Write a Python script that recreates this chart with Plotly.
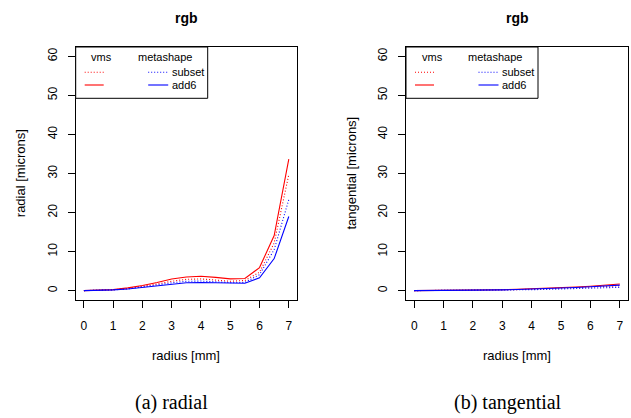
import plotly.graph_objects as go

W, H = 631, 418

# radius sample positions [mm]
radius = [0, 0.5, 1, 1.5, 2, 2.5, 3, 3.5, 4, 4.5, 5, 5.5, 6, 6.5, 7]

# radial distortion [microns]
radial_vms_subset = [0, 0.08, 0.22, 0.55, 1.05, 1.7, 2.4, 2.9, 3.0, 2.7, 2.4, 2.6, 4.7, 12.2, 29.7]
radial_vms_add6 = [0, 0.1, 0.25, 0.7, 1.3, 2.1, 3.0, 3.5, 3.7, 3.4, 3.0, 3.1, 5.9, 14.1, 33.7]
radial_ms_subset = [0, 0.06, 0.2, 0.45, 0.9, 1.45, 2.0, 2.4, 2.45, 2.3, 2.05, 2.1, 4.1, 10.5, 23.3]
radial_ms_add6 = [0, 0.05, 0.2, 0.4, 0.8, 1.3, 1.7, 2.0, 2.1, 2.0, 1.9, 1.9, 3.3, 8.2, 19.0]

# tangential distortion [microns]
tang_vms_subset = [0, 0.01, 0.02, 0.05, 0.08, 0.12, 0.18, 0.26, 0.35, 0.46, 0.58, 0.72, 0.88, 1.05, 1.25]
tang_vms_add6 = [0, 0.01, 0.03, 0.06, 0.1, 0.16, 0.24, 0.34, 0.46, 0.6, 0.76, 0.94, 1.14, 1.4, 1.7]
tang_ms_subset = [0, 0.01, 0.02, 0.04, 0.06, 0.09, 0.13, 0.18, 0.24, 0.31, 0.39, 0.48, 0.58, 0.7, 0.85]
tang_ms_add6 = [0, 0.01, 0.03, 0.05, 0.09, 0.14, 0.2, 0.28, 0.38, 0.5, 0.64, 0.8, 0.98, 1.18, 1.4]

x_ticks = [0, 1, 2, 3, 4, 5, 6, 7]
y_ticks = [0, 10, 20, 30, 40, 50, 60]

panel_titles = ["rgb", "rgb"]
y_titles = ["radial [microns]", "tangential [microns]"]
x_title = "radius [mm]"
captions = ["(a) radial", "(b) tangential"]
legend_headers = ["vms", "metashape"]
legend_labels = ["subset", "add6"]

RED = "rgb(255,0,0)"
BLUE = "rgb(0,0,255)"
DOTS = "1px,2px"
SANS = "Liberation Sans, Arial, sans-serif"
SERIF = "Liberation Serif, Times New Roman, serif"


def px(x):
    return x / W


def py(y):
    return 1 - y / H


fig = go.Figure()

panels = [
    ("x", "y", [radial_vms_subset, radial_vms_add6, radial_ms_subset, radial_ms_add6]),
    ("x2", "y2", [tang_vms_subset, tang_vms_add6, tang_ms_subset, tang_ms_add6]),
]
styles = [(RED, DOTS), (RED, "solid"), (BLUE, DOTS), (BLUE, "solid")]

for xa, ya, series in panels:
    for vals, (col, dash) in zip(series, styles):
        fig.add_trace(go.Scatter(
            x=radius, y=vals, xaxis=xa, yaxis=ya, mode="lines",
            line=dict(color=col, width=1.1, dash=dash),
            showlegend=False, hoverinfo="skip",
        ))

# plot boxes in pixels (left, right) and shared top/bottom
boxes = [(75.7, 297.0), (406.0, 628.0)]
caption_x = [171, 508]
top, bottom = 47.0, 300.0

axis_common = dict(
    showgrid=False, zeroline=False, showline=True, linecolor="black",
    linewidth=1, mirror=True, ticks="outside", ticklen=7, tickwidth=1,
    tickcolor="black", tickfont=dict(family=SANS, size=12, color="black"),
)

for i, (l, r) in enumerate(boxes):
    sfx = "" if i == 0 else str(i + 1)
    fig.layout["xaxis" + sfx] = dict(
        axis_common, domain=[px(l), px(r)], range=[-0.28, 7.28],
        tickvals=x_ticks, anchor="y" + sfx, ticklabelstandoff=8,
    )
    fig.layout["yaxis" + sfx] = dict(
        axis_common, domain=[py(bottom), py(top)], range=[-2.4, 62.4],
        tickvals=y_ticks, tickangle=-90, anchor="x" + sfx, ticklabelstandoff=6,
    )

annotations = []
shapes = []
for i, (l, r) in enumerate(boxes):
    cx = (l + r) / 2
    annotations.append(dict(
        x=px(cx), y=py(18), xref="paper", yref="paper", text="<b>%s</b>" % panel_titles[i],
        showarrow=False, font=dict(family=SANS, size=14, color="black"),
        xanchor="center", yanchor="middle",
    ))
    annotations.append(dict(
        x=px(cx), y=py(355), xref="paper", yref="paper", text=x_title,
        showarrow=False, font=dict(family=SANS, size=13, color="black"),
        xanchor="center", yanchor="middle",
    ))
    annotations.append(dict(
        x=px(caption_x[i]), y=py(402), xref="paper", yref="paper", text=captions[i],
        showarrow=False, font=dict(family=SERIF, size=20, color="black"),
        xanchor="center", yanchor="middle",
    ))
    annotations.append(dict(
        x=px(l - 55), y=py((top + bottom) / 2), xref="paper", yref="paper",
        text=y_titles[i], textangle=-90, showarrow=False,
        font=dict(family=SANS, size=13, color="black"),
        xanchor="center", yanchor="middle",
    ))

    # legend box
    lx = l
    shapes.append(dict(
        type="rect", xref="paper", yref="paper",
        x0=px(lx), x1=px(lx + 132), y0=py(98.3), y1=py(top),
        line=dict(color="black", width=1), fillcolor="white", layer="above",
    ))
    annotations.append(dict(
        x=px(lx + 26), y=py(56.7), xref="paper", yref="paper", text=legend_headers[0],
        showarrow=False, font=dict(family=SANS, size=11, color="black"),
        xanchor="center", yanchor="middle",
    ))
    annotations.append(dict(
        x=px(lx + 89), y=py(56.7), xref="paper", yref="paper", text=legend_headers[1],
        showarrow=False, font=dict(family=SANS, size=11, color="black"),
        xanchor="center", yanchor="middle",
    ))
    for row, (yy, dash) in enumerate([(72.3, DOTS), (85.0, "solid")]):
        shapes.append(dict(
            type="line", xref="paper", yref="paper",
            x0=px(lx + 9), x1=px(lx + 28), y0=py(yy), y1=py(yy),
            line=dict(color=RED, width=1.1, dash=dash), layer="above",
        ))
        shapes.append(dict(
            type="line", xref="paper", yref="paper",
            x0=px(lx + 72.5), x1=px(lx + 92.5), y0=py(yy), y1=py(yy),
            line=dict(color=BLUE, width=1.1, dash=dash), layer="above",
        ))
        annotations.append(dict(
            x=px(lx + 94), y=py(yy), xref="paper", yref="paper", text=legend_labels[row],
            showarrow=False, font=dict(family=SANS, size=11, color="black"),
            xanchor="left", yanchor="middle",
        ))

fig.update_layout(
    width=W, height=H, margin=dict(l=0, r=0, t=0, b=0),
    paper_bgcolor="white", plot_bgcolor="white",
    annotations=annotations, shapes=shapes, showlegend=False,
)

fig.write_html("out.html")
